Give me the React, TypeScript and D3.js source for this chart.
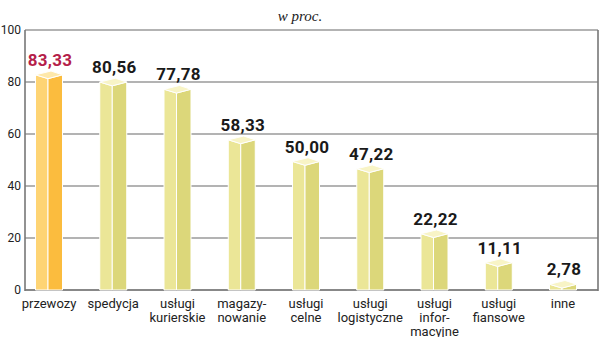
import React from "react";
import * as d3 from "d3";

const categories: string[][] = [
  ["przewozy"],
  ["spedycja"],
  ["usługi", "kurierskie"],
  ["magazy-", "nowanie"],
  ["usługi", "celne"],
  ["usługi", "logistyczne"],
  ["usługi", "infor-", "macyjne"],
  ["usługi", "fiansowe"],
  ["inne"],
];
const values = [83.33, 80.56, 77.78, 58.33, 50.0, 47.22, 22.22, 11.11, 2.78];
const yTicks = [0, 20, 40, 60, 80, 100];
const title = "w proc.";

const W = 600;
const H = 337;

export default function App() {
  const y = d3.scaleLinear().domain([0, 100]).range([290, 30]);
  const x = d3
    .scalePoint<number>()
    .domain(values.map((_, i) => i))
    .range([49, 563]);
  const left = 25;
  const right = 598;
  const bw = 27;
  const fmt = (v: number) => v.toFixed(2).replace(".", ",");

  return (
    <svg
      width={W}
      height={H}
      style={{ position: "absolute", left: 0, top: 0, background: "#fff" }}
    >
      <text
        x={300}
        y={21}
        textAnchor="middle"
        fontFamily="Liberation Serif, DejaVu Serif, serif"
        fontStyle="italic"
        fontSize={15}
        fill="#222"
      >
        {title}
      </text>
      {yTicks.map((t) => (
        <g key={t}>
          <line
            x1={left}
            x2={right}
            y1={y(t)}
            y2={y(t)}
            stroke={t === 0 ? "#888" : "#9a9a9a"}
            strokeWidth={t === 0 ? 2 : 1.4}
          />
          <text
            x={21}
            y={y(t) + 4}
            textAnchor="end"
            fontFamily="Roboto, sans-serif"
            fontSize={12}
            fill="#222"
          >
            {t}
          </text>
        </g>
      ))}
      <line x1={left} x2={left} y1={y(100)} y2={y(0) + 1} stroke="#777" strokeWidth={1.6} />
      <line x1={right} x2={right} y1={y(100)} y2={y(0) + 1} stroke="#777" strokeWidth={1.6} />
      {values.map((v, i) => {
        const cx = x(i) as number;
        const x0 = cx - bw / 2;
        const x1 = cx + bw / 2;
        const xm = cx - 1;
        const yc = y(v) + 1.5;
        const h = 3.8;
        const base = y(0);
        const first = i === 0;
        const cLeft = first ? "#fed474" : "#ebe697";
        const cRight = first ? "#fbbc3e" : "#dcd77a";
        const cTop = first ? "#fee8aa" : "#f8f4c6";
        const leftFace = `M${x0},${yc} L${xm},${yc + h} L${xm},${base} L${x0},${base} Z`;
        const rightFace = `M${xm},${yc + h} L${x1},${yc} L${x1},${base} L${xm},${base} Z`;
        const topFace = `M${x0},${yc} L${cx + 2},${yc - h} L${x1},${yc} L${xm},${yc + h} Z`;
        return (
          <g key={i}>
            <path d={leftFace} fill={cLeft} stroke="#fff" strokeWidth={1} />
            <path d={rightFace} fill={cRight} stroke="#fff" strokeWidth={1} />
            <path d={topFace} fill={cTop} stroke="#fff" strokeWidth={1} />
            <text
              x={cx + 1}
              y={yc - h - 5}
              textAnchor="middle"
              fontFamily="Roboto, sans-serif"
              fontWeight={700}
              fontSize={17}
              letterSpacing={0.3}
              fill={first ? "#b51e4a" : "#1a1a1a"}
            >
              {fmt(v)}
            </text>
            {categories[i].map((line, j) => (
              <text
                key={j}
                x={cx}
                y={307.5 + j * 14}
                textAnchor="middle"
                fontFamily="Roboto, sans-serif"
                fontSize={13}
                fill="#222"
              >
                {line}
              </text>
            ))}
          </g>
        );
      })}
    </svg>
  );
}
